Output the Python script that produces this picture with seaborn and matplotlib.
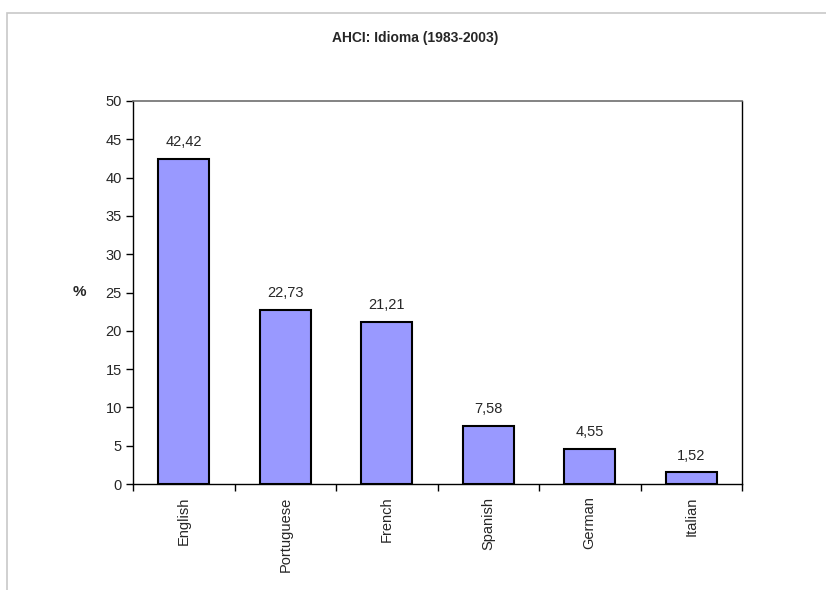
import matplotlib
matplotlib.use("Agg")
import matplotlib.pyplot as plt
import matplotlib.patches as mpatches
from matplotlib.ticker import FixedLocator
import seaborn as sns
import pandas as pd

categories = ["English", "Portuguese", "French", "Spanish", "German", "Italian"]
values = [42.42, 22.73, 21.21, 7.58, 4.55, 1.52]
value_labels = ["42,42", "22,73", "21,21", "7,58", "4,55", "1,52"]
yticks = [0, 5, 10, 15, 20, 25, 30, 35, 40, 45, 50]

sns.set_theme(style="white")
plt.rcParams['font.family'] = ['Liberation Sans', 'DejaVu Sans']

df = pd.DataFrame({"lang": categories, "pct": values})

fig = plt.figure(figsize=(8.26, 5.90), dpi=100)
L, R, T, B = 133, 742, 101, 484
ax = fig.add_axes([L/826, 1 - B/590, (R-L)/826, (B-T)/590])

sns.barplot(data=df, x="lang", y="pct", color="#9999FF", saturation=1,
            edgecolor="black", linewidth=1.5, width=0.5, ax=ax)

ax.set_xlim(-0.5, len(categories) - 0.5)
ax.set_ylim(0, 50)
ax.set_yticks(yticks)
ax.set_yticklabels([str(t) for t in yticks], fontsize=10.5)
ax.set_xticks(range(len(categories)))
ax.set_xticklabels(categories, rotation=90, fontsize=10.5)
ax.tick_params(axis='x', which='major', length=0, pad=9)
ax.xaxis.set_minor_locator(FixedLocator([i - 0.5 for i in range(len(categories) + 1)]))
ax.tick_params(axis='x', which='minor', length=5, width=1, color='black', direction='out', bottom=True)
ax.tick_params(axis='y', length=5, width=1, color='black', direction='out', left=True, pad=3)

for s in ["left", "bottom", "right"]:
    ax.spines[s].set_color("black")
    ax.spines[s].set_linewidth(1)
ax.spines["top"].set_color("#6e6e6e")
ax.spines["top"].set_linewidth(1.2)

ax.set_xlabel("")
ax.set_ylabel("%", rotation=0, fontsize=11, fontweight="bold", labelpad=19, va="center")

for i, (v, lab) in enumerate(zip(values, value_labels)):
    ax.annotate(lab, (i, v), xytext=(0, 7), textcoords="offset points",
                ha="center", va="bottom", fontsize=10.5)

fig.text(415/826, 1 - 38/590, "AHCI: Idioma (1983-2003)", ha="center", va="center",
         fontsize=10, fontweight="bold")

border = mpatches.Rectangle((7/826, -0.1), 1.2, 1 - 13/590 + 0.1, transform=fig.transFigure,
                            fill=False, edgecolor="#c8c8c8", linewidth=1.2)
fig.patches.append(border)

fig.savefig("out.png", dpi=100)
